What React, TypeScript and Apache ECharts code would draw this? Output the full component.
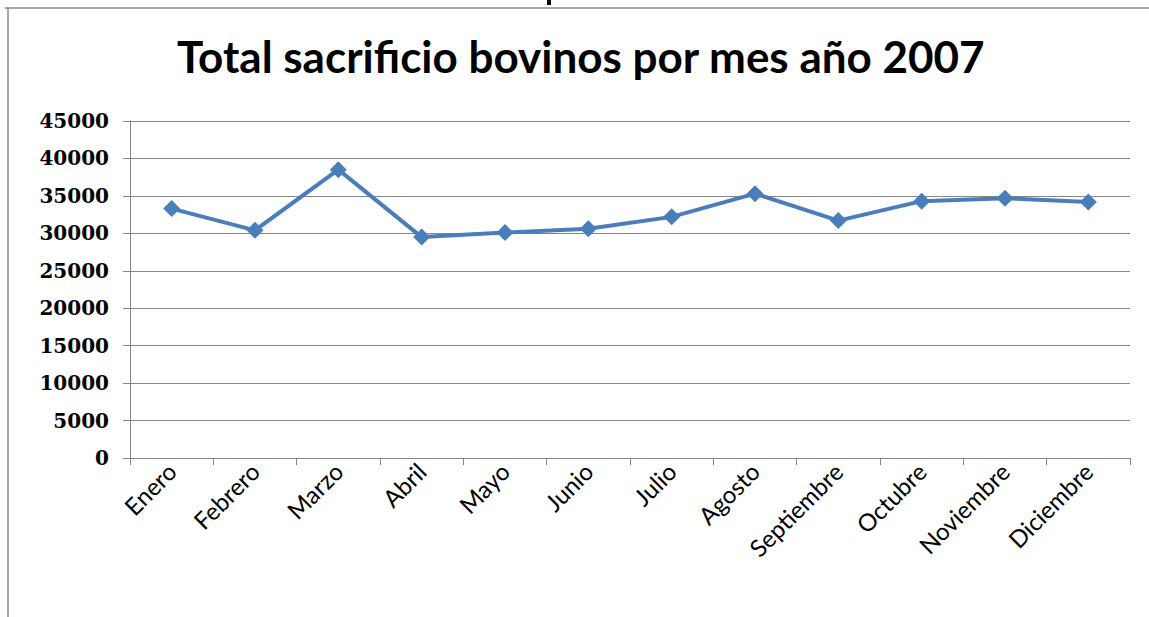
import React, { useEffect, useRef } from "react";
import * as echarts from "echarts";

const titleText = "Total sacrificio bovinos por mes año 2007";
const months = [
  "Enero",
  "Febrero",
  "Marzo",
  "Abril",
  "Mayo",
  "Junio",
  "Julio",
  "Agosto",
  "Septiembre",
  "Octubre",
  "Noviembre",
  "Diciembre",
];
const sacrificio = [33300, 30400, 38500, 29500, 30100, 30600, 32200, 35300, 31700, 34300, 34700, 34200];
const yMin = 0;
const yMax = 45000;
const yStep = 5000;

export default function App() {
  const ref = useRef<HTMLDivElement>(null);
  useEffect(() => {
    document.body.style.margin = "0";
    if (!ref.current) return;
    const chart = echarts.init(ref.current, null, { renderer: "svg" });
    chart.setOption({
      animation: false,
      backgroundColor: "#ffffff",
      title: {
        text: titleText,
        left: 177,
        top: 34,
        padding: 0,
        textStyle: {
          fontFamily: "Lato",
          fontWeight: "bold",
          fontSize: 44,
          color: "#000000",
        },
      },
      grid: { left: 130, right: 19, top: 121, bottom: 159, containLabel: false },
      xAxis: {
        type: "category",
        data: months,
        boundaryGap: true,
        axisLine: { show: true, lineStyle: { color: "#868686", width: 1 } },
        axisTick: { show: true, length: 7, alignWithLabel: false, lineStyle: { color: "#868686" } },
        axisLabel: {
          rotate: 45,
          margin: 9,
          interval: 0,
          fontFamily: "Lato",
          fontSize: 24,
          color: "#000000",
        },
        splitLine: { show: false },
      },
      yAxis: {
        type: "value",
        min: yMin,
        max: yMax,
        interval: yStep,
        axisLine: { show: true, lineStyle: { color: "#868686", width: 1 } },
        axisTick: { show: true, length: 7, lineStyle: { color: "#868686" } },
        axisLabel: {
          margin: 21,
          fontFamily: "DejaVu Serif",
          fontWeight: "bold",
          fontSize: 20,
          color: "#000000",
          formatter: (v: number) => String(v),
        },
        splitLine: { show: true, lineStyle: { color: "#868686", width: 1 } },
      },
      series: [
        {
          type: "line",
          data: sacrificio,
          symbol: "diamond",
          symbolSize: 17,
          lineStyle: { color: "#4A7EBB", width: 4 },
          itemStyle: { color: "#4A7EBB" },
        },
      ],
      graphic: [
        {
          type: "line",
          shape: { x1: 5, y1: 8, x2: 1149, y2: 8 },
          style: { stroke: "#8a8a8a", lineWidth: 1.5 },
          silent: true,
        },
        {
          type: "line",
          shape: { x1: 8, y1: 8, x2: 8, y2: 617 },
          style: { stroke: "#8a8a8a", lineWidth: 1.5 },
          silent: true,
        },
        {
          type: "rect",
          shape: { x: 547, y: 0, width: 4, height: 5 },
          style: { fill: "#000000" },
          silent: true,
        },
      ],
    });
    return () => chart.dispose();
  }, []);
  return <div ref={ref} style={{ width: 1149, height: 617, overflow: "hidden" }} />;
}
